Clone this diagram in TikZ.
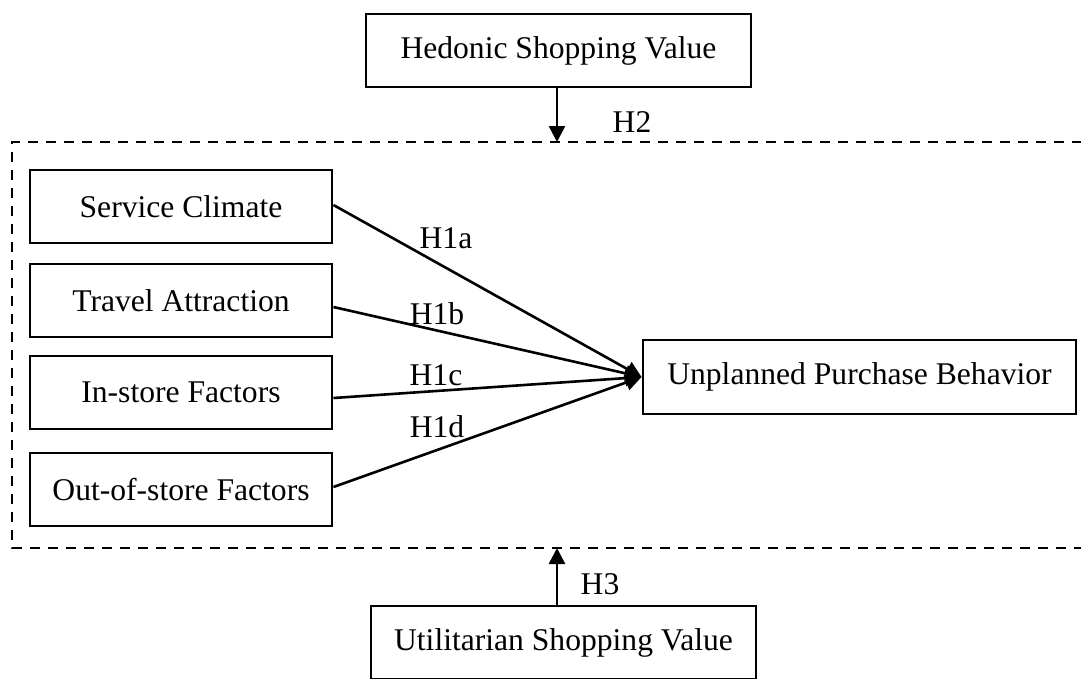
\documentclass[tikz,border=0pt]{standalone}
\usepackage{fontspec}
\setmainfont{Liberation Serif}
\usetikzlibrary{arrows.meta}
\begin{document}
\begin{tikzpicture}[x=1pt,y=-1pt,
  every node/.style={font=\fontsize{31.6}{36}\selectfont},
  box/.style={draw,line width=2.9pt,rectangle,inner sep=0pt,minimum height=73pt},
  arr/.style={line width=2.6pt,-{Triangle[length=16pt,width=16pt]}},
  frame/.style={line width=2.8pt,dash pattern=on 10pt off 8pt},
  lab/.style={inner sep=0pt}]
\useasboundingbox (0,0) rectangle (1081,678);
\clip (0,0) rectangle (1081,678);
% dashed frame
\draw[frame] (1100,142) -- (12,142) -- (12,548) -- (1100,548);
\coordinate (ftop) at (557,142);
\coordinate (fbot) at (557,548);
% nodes
\node[box,minimum width=302pt] (sc) at (181,206.5) {Service Climate};
\node[box,minimum width=302pt] (ta) at (181,300.5) {Travel Attraction};
\node[box,minimum width=302pt] (is) at (181,392.5) {In-store Factors};
\node[box,minimum width=302pt] (os) at (181,489.5) {Out-of-store Factors};
\node[box,minimum width=433pt,minimum height=74pt] (up) at (859.5,377) {Unplanned Purchase Behavior};
\node[box,minimum width=385pt] (hed) at (558.5,50.5) {Hedonic Shopping Value};
\node[box,minimum width=385pt] (uti) at (563.5,642.5) {Utilitarian Shopping Value};
% connectors
\draw[arr] ([yshift=1.5pt]sc.east) -- (up.west);
\draw[arr] ([yshift=-6.5pt]ta.east) -- (up.west);
\draw[arr] ([yshift=-5.5pt]is.east) -- (up.west);
\draw[arr] ([yshift=2.5pt]os.east) -- (up.west);
\draw[arr] (hed.south -| ftop) -- (ftop);
\draw[arr] (uti.north -| fbot) -- (fbot);
% labels
\node[lab] (h1a) at (446,238) {H1a};
\node[lab] (h1b) at (437,314) {H1b};
\node[lab] (h1c) at (436,375) {H1c};
\node[lab] (h1d) at (437,427) {H1d};
\node[lab] (h2) at (632,122) {H2};
\node[lab] (h3) at (600,584) {H3};
\end{tikzpicture}
\end{document}
